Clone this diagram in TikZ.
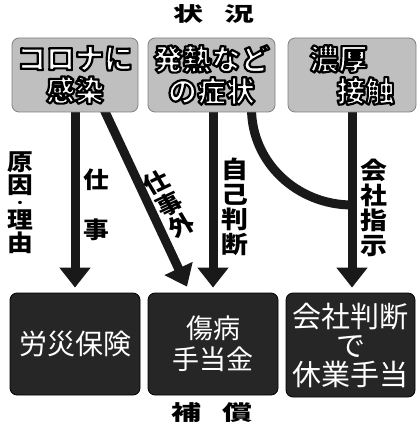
\documentclass[tikz,border=0pt]{standalone}
\usepackage{fontspec}
\setmainfont{Noto Sans CJK JP}
\usetikzlibrary{arrows.meta,backgrounds}
\newcommand\outl[1]{\special{pdf:literal direct 2 Tr 2.2 w 1 j 0 0 0 RG}#1\special{pdf:literal direct 0 Tr}}
\tikzset{
  topbox/.style={draw=black!50, line width=0.8pt, fill=black!25, rounded corners=7pt,
    minimum height=74pt, inner sep=0pt, text=white, align=center,
    font=\fontsize{29}{32}\selectfont\bfseries},
  botbox/.style={draw=black, line width=0.8pt, fill=black!85, rounded corners=7pt,
    inner sep=0pt, text=white, align=center},
  shaft/.style={line width=9pt, draw=black!90},
  arr/.style={shaft, -{Triangle[width=30pt,length=20pt]}},
  lbl/.style={font=\fontsize{24}{25}\selectfont\bfseries, align=center, inner sep=0pt, xscale=1.12},
  headlbl/.style={font=\fontsize{30}{30}\selectfont\bfseries, inner sep=0pt},
}
\begin{document}
\begin{tikzpicture}[x=1pt,y=-1pt]
\useasboundingbox (0,0) rectangle (417,435);

% title
\node[headlbl] (t1) at (214,14) {\scalebox{1}[0.66]{状\hspace{22pt}況}};

% top boxes
\node[topbox, minimum width=126pt] (s1) at (75,75)
  {\outl{コロナに}\\\outl{感染}};
\node[topbox, minimum width=127pt] (s2) at (211.5,75)
  {\outl{発熱など}\\\outl{の症状}};
\node[topbox, minimum width=128pt, align=left] (s3) at (352,75)
  {\outl{濃厚}\\\hspace*{27pt}\outl{接触}};

% bottom boxes
\node[botbox, minimum width=130pt, minimum height=102pt, font=\fontsize{28}{30}\selectfont]
  (b1) at (75,344) {労災保険};
\node[botbox, minimum width=130pt, minimum height=102pt, font=\fontsize{27}{31}\selectfont]
  (b2) at (213,344) {傷病\\手当金};
\node[botbox, minimum width=129pt, minimum height=104pt, font=\fontsize{29}{29}\selectfont]
  (b3) at (350.5,345) {会社判断\\で\\休業手当};

% connectors
\begin{pgfonlayer}{background}
\draw[arr, shorten >=5pt] (s1.south) -- (b1.north);
\draw[arr] ([xshift=28pt,yshift=5pt]s1.south) -- ([xshift=-26pt,yshift=6pt]b2.north);
\draw[arr, shorten >=5pt] (s2.south -| b2.north) -- (b2.north);
\draw[arr, shorten >=5pt] (s3.south) -- (s3.south |- b3.north);
\coordinate (join) at (352,205);
\draw[shaft] ([xshift=40pt,yshift=4pt]s2.south) to[out=-90,in=180] (join);
\end{pgfonlayer}

% labels
\node[lbl, font=\fontsize{23}{23}\selectfont\bfseries] (l1) at (20,203)
  {原\\因\\[-9.6pt]{\fontsize{12}{12}\selectfont ・}\\[-1.4pt]理\\由};
\node[lbl, font=\fontsize{23}{50}\selectfont\bfseries] (l2) at (96,205) {仕\\事};
\node[lbl, font=\fontsize{23}{24}\selectfont\bfseries, rotate=28] (l3) at (169,204) {仕\\事\\外};
\node[lbl] (l4) at (235,207) {自\\己\\判\\断};
\node[lbl] (l5) at (374,208) {会\\社\\指\\示};

% bottom title
\node[headlbl] (t2) at (212,413) {\scalebox{1}[0.7]{補\hspace{22pt}償}};
\end{tikzpicture}
\end{document}
